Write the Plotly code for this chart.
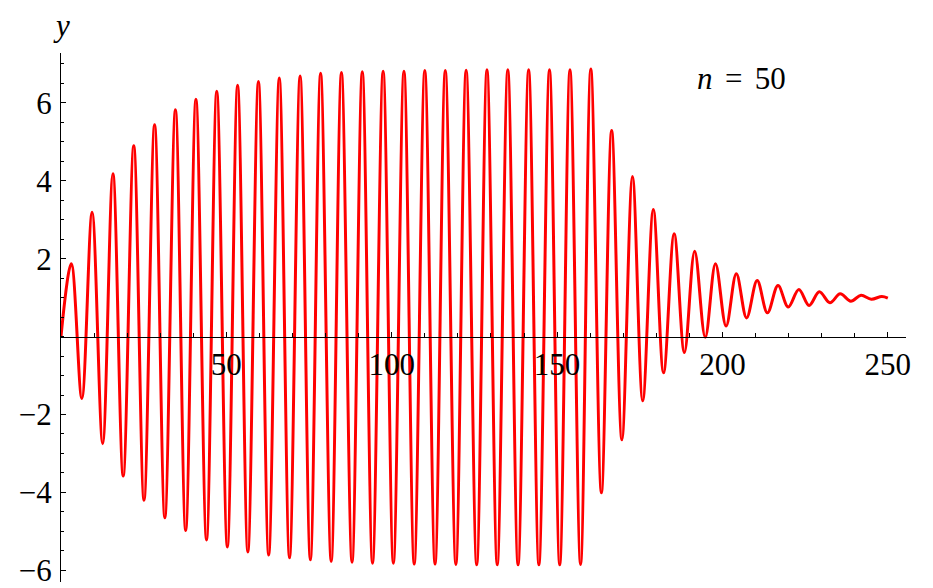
import plotly.graph_objects as go

# extrema of the curve (t values, then y values)
t_points = [0, 3.1, 6.3, 9.4, 12.6, 15.7, 18.8, 22.0, 25.1, 28.3, 31.4,
            34.6, 37.7, 40.8, 44.0, 47.1, 50.3, 53.4, 56.5, 59.7, 62.8,
            66.0, 69.1, 72.3, 75.4, 78.5, 81.7, 84.8, 88.0, 91.1, 94.2,
            97.4, 100.5, 103.7, 106.8, 110.0, 113.1, 116.2, 119.4, 122.5, 125.7,
            128.8, 131.9, 135.1, 138.2, 141.4, 144.5, 147.7, 150.8, 153.9, 157.1,
            160.2, 163.4, 166.5, 169.6, 172.8, 175.9, 179.1, 182.2, 185.4, 188.5,
            191.6, 194.8, 197.9, 201.1, 204.2, 207.3, 210.5, 213.6, 216.8, 219.9,
            223.1, 226.2, 229.3, 232.5, 235.6, 238.8, 241.9, 245.0, 248.2, 250.0]

y_points = [0, 1.87, -1.59, 3.19, -2.75, 4.18, -3.58, 4.90, -4.20, 5.44, -4.65,
            5.82, -4.98, 6.09, -5.22, 6.30, -5.40, 6.45, -5.53, 6.55, -5.61,
            6.64, -5.68, 6.69, -5.73, 6.76, -5.77, 6.78, -5.79, 6.80, -5.82,
            6.81, -5.82, 6.81, -5.84, 6.83, -5.84, 6.83, -5.85, 6.84, -5.86,
            6.85, -5.86, 6.85, -5.86, 6.85, -5.86, 6.85, -5.86, 6.85, -5.85,
            6.87, -4.01, 5.29, -2.65, 4.11, -1.65, 3.26, -0.93, 2.64, -0.41,
            2.19, -0.02, 1.87, 0.27, 1.61, 0.48, 1.44, 0.61, 1.31, 0.76,
            1.21, 0.80, 1.15, 0.87, 1.10, 0.91, 1.06, 0.96, 1.03, 0.99]

x_tickvals = [50, 100, 150, 200, 250]
y_tickvals = [-6, -4, -2, 2, 4, 6]
y_ticktext = ["\u22126", "\u22124", "\u22122", "2", "4", "6"]

FONT = "Liberation Serif"
FS = 31
X_RANGE = [0, 255.5]
Y_RANGE = [-6.30, 7.28]

fig = go.Figure()
fig.add_trace(go.Scatter(
    x=t_points, y=y_points, mode="lines",
    line=dict(color="#ff0000", width=3, shape="spline", smoothing=1.0),
    hoverinfo="skip", showlegend=False,
))

x_axis_pos = (0 - Y_RANGE[0]) / (Y_RANGE[1] - Y_RANGE[0])

fig.update_layout(
    width=933, height=588,
    margin=dict(l=53, r=35, t=45, b=8),
    paper_bgcolor="white", plot_bgcolor="white",
    font=dict(family=FONT, size=FS, color="black"),
    xaxis=dict(
        range=X_RANGE, anchor="free", position=x_axis_pos,
        showgrid=False, zeroline=False,
        showline=True, linecolor="black", linewidth=1,
        ticks="inside", ticklen=5, tickwidth=1, tickcolor="black",
        tickvals=x_tickvals, ticklabelstandoff=0,
        tickfont=dict(family=FONT, size=FS, color="black"),
        minor=dict(dtick=10, tick0=0, ticks="inside", ticklen=4,
                   tickwidth=1, tickcolor="black", showgrid=False),
    ),
    yaxis=dict(
        range=Y_RANGE,
        showgrid=False, zeroline=False,
        showline=True, linecolor="black", linewidth=1,
        ticks="inside", ticklen=5, tickwidth=1, tickcolor="black",
        tickvals=y_tickvals, ticktext=y_ticktext, ticklabelstandoff=2,
        tickfont=dict(family=FONT, size=FS, color="black"),
        minor=dict(dtick=0.5, tick0=0, ticks="inside", ticklen=3,
                   tickwidth=1, tickcolor="black", showgrid=False),
    ),
    annotations=[
        dict(text="<i>y</i>", xref="paper", yref="paper", x=0, y=1.052,
             xanchor="center", yanchor="middle", showarrow=False,
             font=dict(family=FONT, size=FS, color="black")),
        dict(text="<i>t</i>", xref="paper", yref="paper", x=1.028, y=0.441,
             xanchor="left", yanchor="middle", showarrow=False,
             font=dict(family=FONT, size=FS, color="black")),
        dict(text="<i>n</i>\u2009\u2009=\u2009\u200950", xref="paper", yref="paper",
             x=0.750, y=0.951,
             xanchor="left", yanchor="middle", showarrow=False,
             font=dict(family=FONT, size=FS, color="black")),
    ],
)

fig.write_html("out.html")
